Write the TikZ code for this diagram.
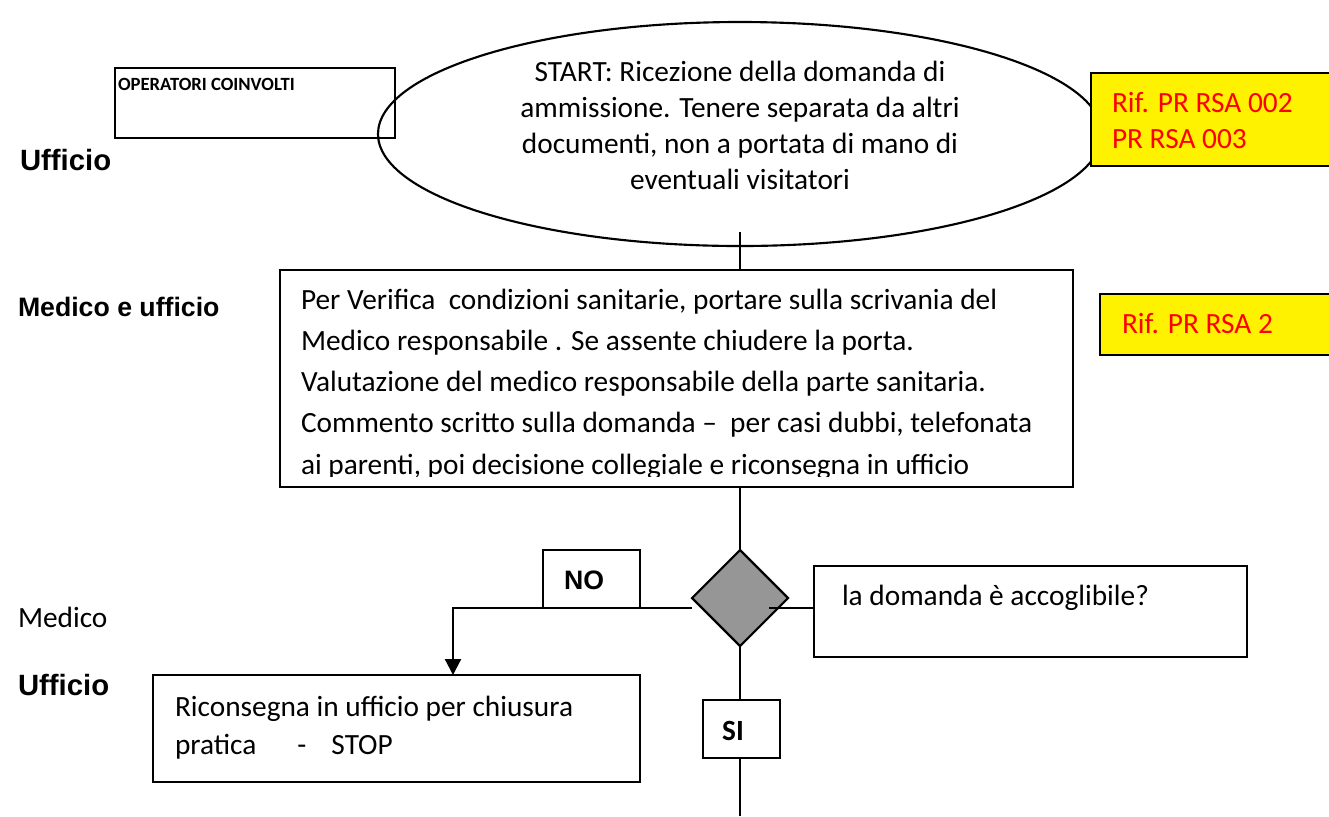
\documentclass[tikz,border=0pt]{standalone}
\usepackage{fontspec}
\setmainfont{Carlito}
\newfontfamily\arialfont{Liberation Sans}
\usetikzlibrary{shapes.geometric, arrows.meta, positioning}
\definecolor{decgray}{RGB}{150,150,150}
\tikzset{
  x=0.375pt, y=-0.375pt,
  every node/.style={inner sep=0pt, outer sep=0pt},
  box/.style={draw, line width=0.8pt, rectangle, anchor=north west},
  refbox/.style={box, fill=yellow},
  txt/.style={anchor=base west, align=left, font=\fontsize{11}{13.4}\selectfont},
  reftxt/.style={txt, text=red},
  lane/.style={anchor=base west, font=\arialfont\bfseries\fontsize{10}{12}\selectfont},
  link/.style={line width=0.8pt},
}

\begin{document}
\begin{tikzpicture}
        \useasboundingbox (0,0) rectangle (1329,816);

        % lanes
        \node[lane, font=\arialfont\bfseries\fontsize{11}{13}\selectfont] (lane1) at (20,170) {Ufficio};
        \node[lane] (lane2) at (18,316) {Medico e ufficio};
        \node[txt] (lane3) at (18,627) {Medico};
        \node[lane, font=\arialfont\bfseries\fontsize{11}{13}\selectfont] (lane4) at (18,695) {Ufficio};

        % start (multi-line texts sit on their last baseline)
        \node[draw, ellipse, line width=0.8pt, minimum width=271.5pt, minimum height=84pt] (start) at (740,134) {};
        \node[txt, anchor=base, align=center] (starttxt) at (740,189) {START: Ricezione della domanda di\\ammissione. Tenere separata da altri\\documenti, non a portata di mano di\\eventuali visitatori};
        \node[box, minimum width=105pt, minimum height=26.25pt] (oper) at (115,68) {};
        \node[txt, font=\bfseries\fontsize{7}{8}\selectfont] (opertxt) at (118,90) {OPERATORI COINVOLTI};
        \node[refbox, minimum width=92.25pt, minimum height=34.875pt] (ref1) at (1091,73) {};
        \node[reftxt] (ref1txt) at (1112,148) {Rif. PR RSA 002\\PR RSA 003};

        % check
        \node[box, minimum width=297.375pt, minimum height=81.375pt] (cond) at (280,270) {};
        \begin{scope}
          \clip (280,270) rectangle (1073,476);
          \node[txt, font=\fontsize{11}{15.45}\selectfont] (condtxt) at (301,474) {Per Verifica\ \ condizioni sanitarie, portare sulla scrivania del\\Medico responsabile . Se assente chiudere la porta.\\Valutazione del medico responsabile della parte sanitaria.\\Commento scritto sulla domanda --\ \ per casi dubbi, telefonata\\ai parenti, poi decisione collegiale e riconsegna in ufficio};
        \end{scope}
        \node[refbox, minimum width=89.25pt, minimum height=22.875pt] (ref2) at (1100,294) {};
        \node[reftxt] (ref2txt) at (1122,333) {Rif. PR RSA 2};

        % decision
        \node[diamond, draw, fill=decgray, line width=0.8pt, aspect=1, minimum width=36pt, minimum height=36pt] (dec) at (740,598) {};
        \node[box, minimum width=36.375pt, minimum height=21.75pt] (no) at (543,550) {};
        \node[lane, anchor=base] (notxt) at (584,589) {NO};
        \node[box, minimum width=162.375pt, minimum height=34.125pt] (ask) at (814,566) {};
        \node[txt] (asktxt) at (842,605) {la domanda è accoglibile?};
        \node[box, minimum width=182.625pt, minimum height=40.125pt] (stop) at (153,675) {};
        \node[txt, font=\fontsize{11}{13.9}\selectfont] (stoptxt) at (175,754) {Riconsegna in ufficio per chiusura\\pratica\hspace{15.4pt}-\hspace{9.4pt}STOP};
        \node[box, minimum width=28.875pt, minimum height=21.75pt] (si) at (703,700) {};
        \node[txt, anchor=base, font=\bfseries\fontsize{11}{13}\selectfont] (sitxt) at (733,740) {SI};

        % links
        \coordinate (startlink) at (740,232);
        \coordinate (decw) at (692,608);
        \coordinate (noturn) at (453,608);
        \coordinate (dece) at (769,608);
        \coordinate (siend) at (740,816);
        \draw[link] (startlink) -- (startlink |- cond.north);
        \draw[link] (cond.south -| dec.north) -- (dec.north);
        \draw[link, -{Triangle[width=6pt, length=6pt]}] (decw) -- (noturn) -- (noturn |- stop.north);
        \draw[link] (dece) -- (dece -| ask.west);
        \draw[link] (dec.south) -- (dec.south |- si.north);
        \draw[link] (si.south -| dec.south) -- (siend);
\end{tikzpicture}
\end{document}
